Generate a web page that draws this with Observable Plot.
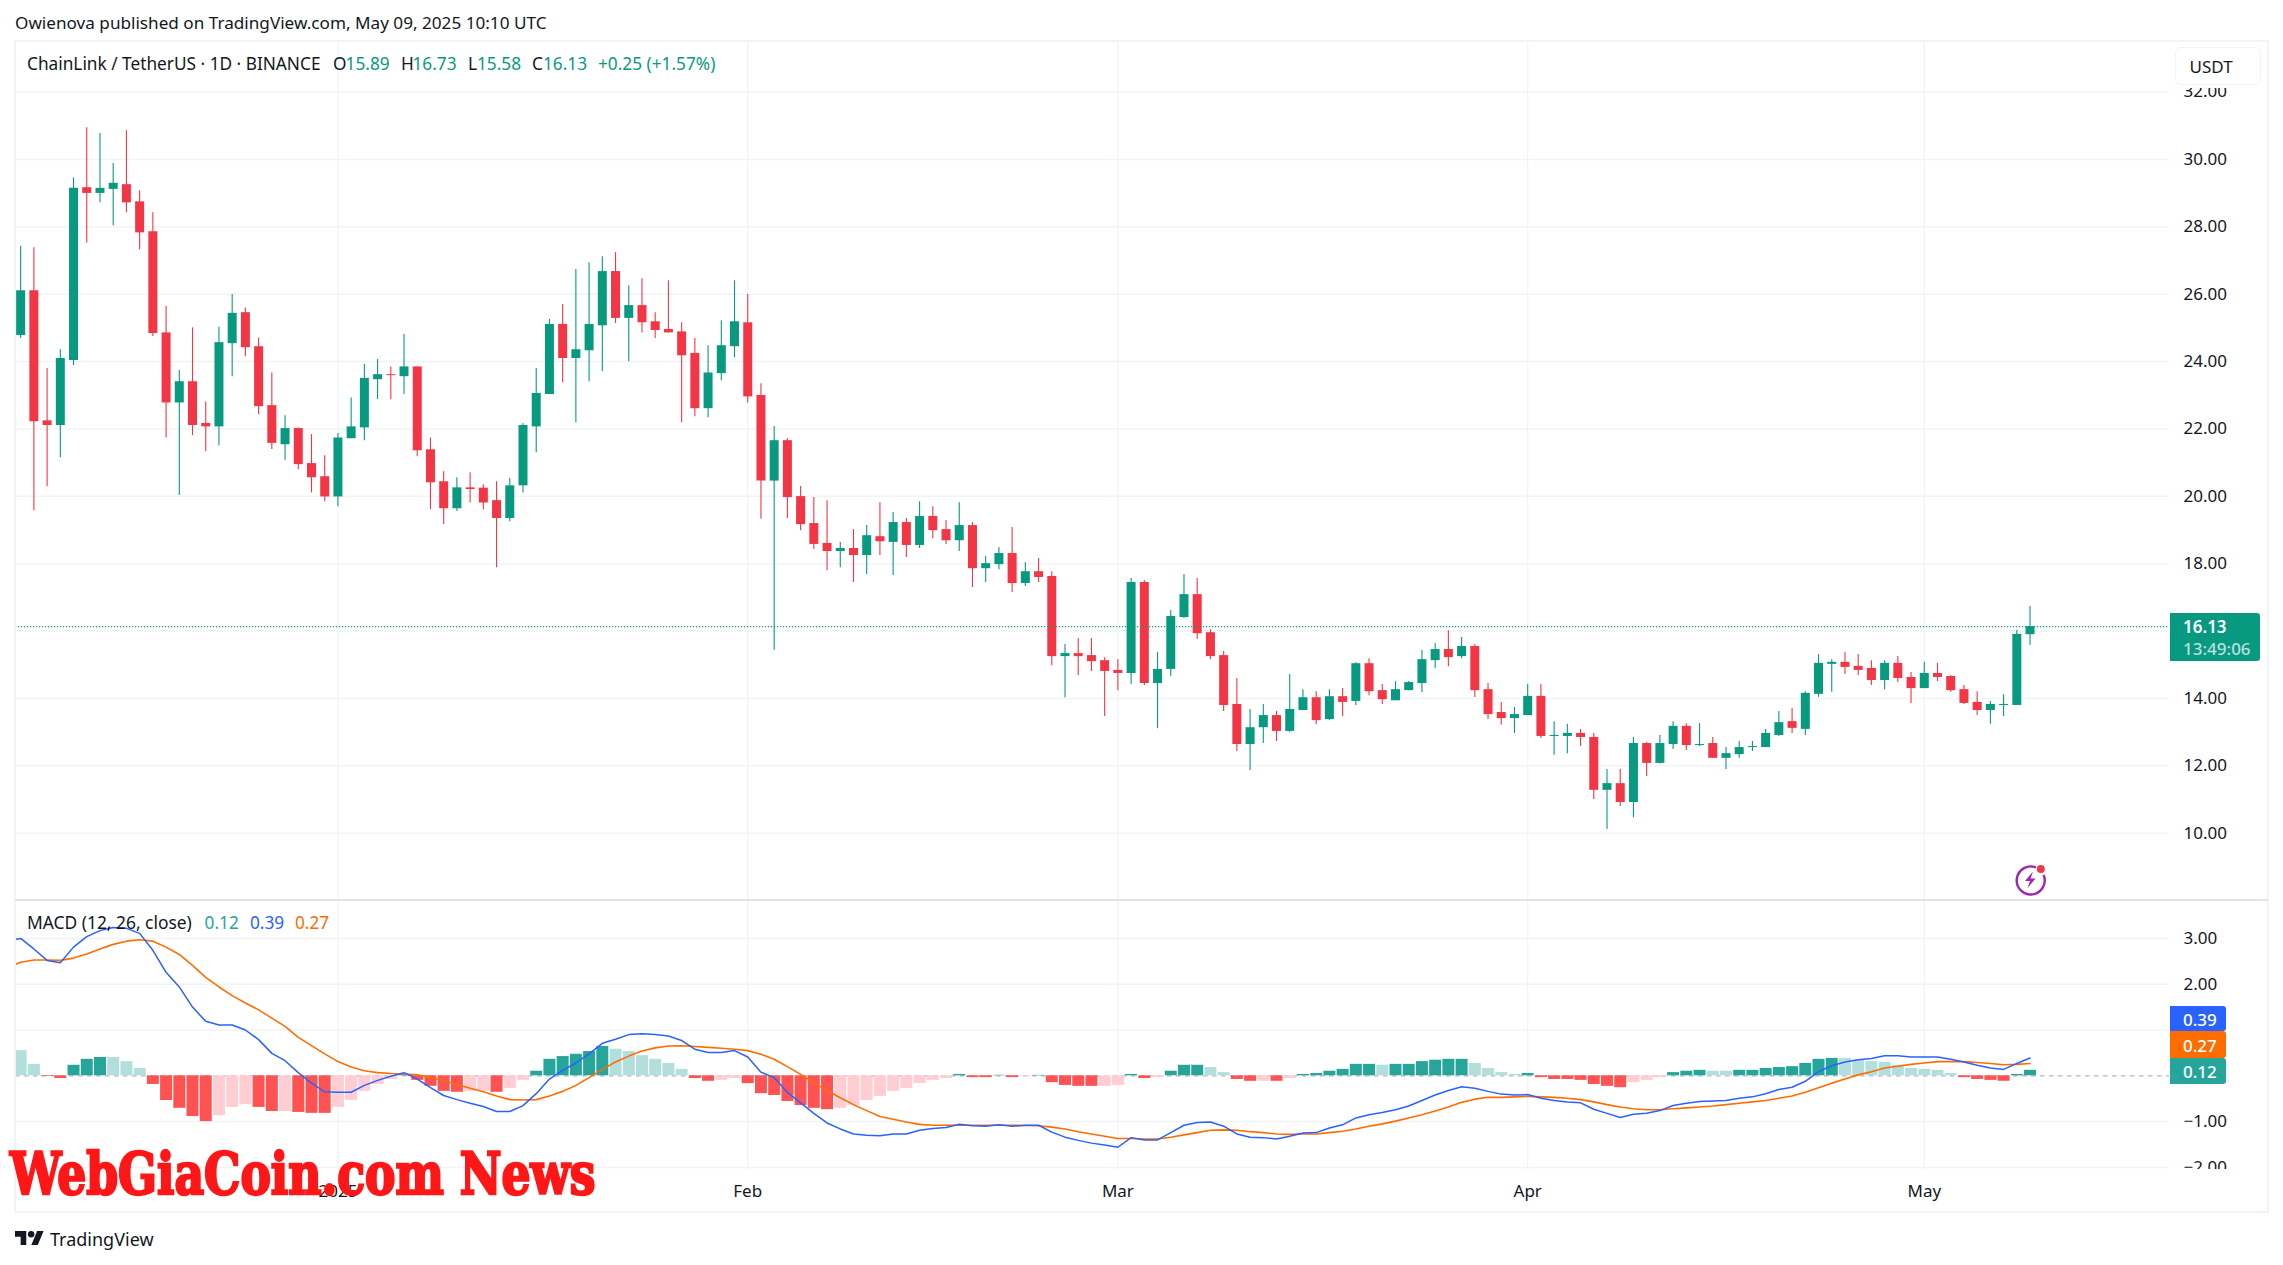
<!DOCTYPE html>
<html>
<head>
<meta charset="utf-8">
<script src="https://cdn.jsdelivr.net/npm/d3@7"></script>
<script src="https://cdn.jsdelivr.net/npm/@observablehq/plot@0.6"></script>
<style>
html,body{margin:0;padding:0;background:#fff;}
#page{position:relative;width:2283px;height:1265px;overflow:hidden;font-family:"Noto Sans",sans-serif;color:#131722;}
#page>svg,#page>figure{position:absolute;left:0;margin:0;}
.t{position:absolute;white-space:nowrap;transform:translateY(-50%);line-height:1;}
.box{position:absolute;box-sizing:border-box;}
</style>
</head>
<body>
<div id="page"></div>
<script>
// ---------- candle data, one value per day from 8 Dec 2024 ----------
const opens = [24.77,26.10,22.24,22.10,24.03,29.16,28.99,29.11,29.25,28.74,27.85,24.85,22.77,23.40,22.16,22.06,24.53,25.45,24.44,22.69,21.53,22.01,20.97,20.58,19.98,21.71,22.03,23.46,23.61,23.55,23.84,21.38,20.43,19.63,20.25,20.24,19.87,19.34,20.31,22.06,23.02,25.10,24.09,24.32,25.06,26.67,25.28,25.66,25.18,24.95,24.88,24.24,22.60,23.64,24.44,25.15,22.99,20.45,21.65,19.99,19.19,18.60,18.36,18.45,18.24,18.80,18.63,19.22,18.54,19.40,19.01,18.68,19.13,17.85,17.97,18.30,17.41,17.76,17.62,15.24,15.33,15.27,15.12,14.83,14.74,17.44,14.44,14.86,16.40,17.08,15.95,15.27,13.82,12.63,13.13,13.49,13.02,13.64,14.02,13.37,14.05,13.91,15.03,14.23,13.93,14.23,14.44,15.12,15.45,15.24,15.54,14.26,13.58,13.40,13.49,14.06,12.87,12.87,12.96,12.84,11.27,11.47,10.91,12.66,12.07,12.63,13.17,12.60,12.66,12.22,12.33,12.54,12.54,12.90,13.31,13.08,14.12,15.01,15.07,14.95,14.89,14.53,15.04,14.62,14.29,14.74,14.65,14.26,13.88,13.64,13.79,13.79,15.89];
const highs = [27.42,27.38,23.79,24.35,29.45,30.94,30.77,29.88,30.85,29.07,28.42,25.63,23.73,25.00,22.80,25.02,25.99,25.59,24.70,23.66,22.39,22.03,21.83,21.20,21.86,22.92,23.91,24.06,23.84,24.80,23.84,21.73,20.73,20.55,20.70,20.34,20.43,20.53,22.16,23.79,25.25,25.69,26.73,26.93,27.11,27.23,26.25,26.46,25.45,26.40,25.15,24.68,24.47,25.21,26.40,25.99,23.34,22.07,21.71,20.29,19.96,19.87,18.63,19.01,19.13,19.81,19.52,19.34,19.84,19.69,19.28,19.81,19.22,18.21,18.48,19.07,18.03,18.15,17.76,15.60,15.78,15.78,15.21,15.15,17.56,17.50,15.36,16.61,17.68,17.56,16.04,15.39,14.59,13.67,13.82,13.61,14.71,14.26,14.20,14.26,14.29,15.06,15.18,14.41,14.50,14.50,15.42,15.63,16.01,15.81,15.60,14.44,13.88,13.73,14.41,14.41,13.31,13.23,13.08,12.96,11.89,11.89,12.84,12.69,12.90,13.31,13.25,13.25,12.84,12.54,12.72,12.72,13.08,13.61,13.70,14.20,15.30,15.15,15.36,15.30,15.12,15.12,15.24,14.77,15.07,15.04,14.68,14.38,14.20,13.91,14.11,16.02,16.73];
const lows = [24.68,19.57,20.28,21.14,23.88,27.52,28.71,28.03,28.42,27.32,24.74,21.73,20.02,21.80,21.32,21.50,23.55,24.14,22.42,21.39,21.06,20.79,20.10,19.84,19.69,21.71,21.65,22.87,22.87,23.02,21.17,19.60,19.16,19.55,19.80,19.60,17.88,19.24,20.10,21.29,23.02,23.37,22.18,23.40,23.70,25.13,23.99,24.85,24.68,24.85,22.18,22.36,22.33,23.43,24.11,22.77,19.32,15.43,19.34,18.98,18.42,17.79,17.88,17.44,17.68,18.24,17.65,18.18,18.45,18.74,18.57,18.36,17.29,17.44,17.82,17.14,17.32,17.44,14.97,14.02,14.68,14.80,13.46,14.23,14.41,14.38,13.10,14.65,16.37,15.75,15.15,13.61,12.42,11.86,12.66,12.72,12.99,13.64,13.22,13.34,13.46,13.79,14.08,13.82,13.93,14.23,14.17,14.89,14.94,15.18,14.03,13.37,13.20,12.96,13.49,12.81,12.31,12.36,12.57,11.00,10.11,10.79,10.46,11.68,12.05,12.48,12.45,12.57,12.22,11.89,12.22,12.42,12.54,12.87,12.96,12.90,14.03,14.18,14.71,14.68,14.38,14.26,14.47,13.85,14.29,14.50,14.18,13.82,13.49,13.23,13.46,13.79,15.58];
const closes = [26.10,22.21,22.10,24.09,29.14,28.99,29.14,29.29,28.71,27.82,24.83,22.77,23.40,22.10,22.06,24.56,25.43,24.41,22.66,21.57,22.01,20.94,20.55,19.98,21.73,22.06,23.50,23.61,23.58,23.84,21.35,20.40,19.63,20.25,20.20,19.80,19.34,20.31,22.10,23.05,25.10,24.09,24.35,25.10,26.67,25.28,25.66,25.15,24.92,24.85,24.17,22.60,23.66,24.47,25.18,22.95,20.45,21.65,19.96,19.16,18.57,18.36,18.45,18.24,18.83,18.65,19.22,18.54,19.40,18.98,18.68,19.13,17.85,18.00,18.30,17.41,17.76,17.59,15.24,15.33,15.24,15.09,14.80,14.74,17.44,14.44,14.86,16.43,17.08,15.92,15.24,13.79,12.63,13.13,13.49,13.02,13.67,14.02,13.34,14.05,13.88,15.03,14.20,13.96,14.26,14.47,15.15,15.45,15.21,15.54,14.23,13.52,13.40,13.52,14.06,12.87,12.90,12.96,12.84,11.27,11.47,10.91,12.66,12.07,12.66,13.17,12.60,12.63,12.22,12.36,12.54,12.57,12.96,13.28,13.11,14.15,15.04,15.07,14.92,14.83,14.53,15.04,14.59,14.29,14.74,14.62,14.23,13.85,13.64,13.82,13.82,15.90,16.13];

// ---------- MACD data, same days ----------
const hist = [0.55,0.25,-0.015,-0.06,0.23,0.36,0.40,0.40,0.31,0.16,-0.19,-0.54,-0.71,-0.89,-1.00,-0.87,-0.69,-0.63,-0.69,-0.78,-0.78,-0.80,-0.82,-0.82,-0.69,-0.54,-0.34,-0.19,-0.08,0.03,-0.10,-0.23,-0.34,-0.36,-0.34,-0.34,-0.36,-0.28,-0.10,0.10,0.36,0.42,0.47,0.53,0.64,0.58,0.53,0.44,0.36,0.27,0.14,-0.06,-0.12,-0.10,-0.06,-0.17,-0.39,-0.43,-0.56,-0.65,-0.71,-0.74,-0.71,-0.65,-0.54,-0.45,-0.34,-0.28,-0.17,-0.10,-0.06,0.03,-0.04,-0.04,0.01,-0.04,-0.015,0.01,-0.15,-0.21,-0.23,-0.23,-0.23,-0.21,0.03,-0.06,-0.04,0.10,0.23,0.23,0.18,0.07,-0.08,-0.12,-0.12,-0.12,-0.06,0.03,0.05,0.10,0.14,0.25,0.25,0.23,0.25,0.25,0.31,0.34,0.36,0.36,0.27,0.16,0.07,0.03,0.05,-0.04,-0.08,-0.08,-0.10,-0.19,-0.23,-0.26,-0.15,-0.10,-0.04,0.07,0.10,0.12,0.10,0.10,0.12,0.12,0.16,0.18,0.20,0.27,0.36,0.38,0.38,0.34,0.31,0.29,0.23,0.16,0.14,0.12,0.05,-0.04,-0.08,-0.10,-0.12,0.03,0.12];
const histFaded = [1,1,0,0,0,0,0,1,1,1,0,0,0,0,0,1,1,1,0,0,1,0,0,0,1,1,1,1,1,0,0,0,0,0,1,1,0,1,1,0,0,0,0,0,0,1,1,1,1,1,1,0,0,1,1,0,0,0,0,0,0,0,1,1,1,1,1,1,1,1,1,0,0,0,0,0,1,0,0,0,0,0,1,1,0,0,1,0,0,0,1,1,0,0,1,0,1,0,0,0,0,0,0,1,0,0,0,0,0,0,1,1,1,1,0,0,0,0,0,0,0,0,1,1,1,0,0,0,1,1,0,0,0,0,0,0,0,0,1,1,1,1,1,1,1,1,1,0,0,0,0,0,0];
const macdLine = [3.00,2.77,2.52,2.47,2.81,3.04,3.17,3.24,3.22,3.11,2.74,2.26,1.94,1.50,1.19,1.11,1.11,1.00,0.79,0.49,0.33,0.07,-0.16,-0.35,-0.36,-0.36,-0.21,-0.10,-0.01,0.07,-0.07,-0.26,-0.43,-0.52,-0.60,-0.67,-0.78,-0.78,-0.65,-0.39,-0.07,0.12,0.28,0.48,0.71,0.80,0.90,0.92,0.90,0.87,0.77,0.58,0.51,0.51,0.55,0.41,0.08,-0.04,-0.36,-0.59,-0.82,-1.03,-1.16,-1.27,-1.30,-1.31,-1.27,-1.27,-1.19,-1.15,-1.13,-1.06,-1.09,-1.10,-1.07,-1.10,-1.08,-1.08,-1.23,-1.34,-1.41,-1.47,-1.51,-1.56,-1.35,-1.40,-1.40,-1.24,-1.08,-1.02,-1.01,-1.10,-1.27,-1.34,-1.35,-1.38,-1.32,-1.25,-1.24,-1.14,-1.07,-0.92,-0.85,-0.80,-0.74,-0.66,-0.54,-0.42,-0.32,-0.24,-0.27,-0.34,-0.40,-0.42,-0.41,-0.49,-0.54,-0.57,-0.59,-0.73,-0.82,-0.91,-0.84,-0.82,-0.76,-0.65,-0.60,-0.56,-0.55,-0.54,-0.49,-0.46,-0.39,-0.30,-0.25,-0.12,0.09,0.22,0.30,0.35,0.38,0.44,0.44,0.41,0.41,0.41,0.36,0.30,0.23,0.17,0.14,0.27,0.39];
const signalLine = [2.48,2.53,2.53,2.52,2.57,2.66,2.77,2.87,2.94,2.97,2.94,2.81,2.65,2.41,2.15,1.94,1.75,1.59,1.44,1.26,1.08,0.84,0.66,0.48,0.31,0.19,0.11,0.07,0.05,0.04,0.02,-0.03,-0.11,-0.19,-0.27,-0.35,-0.44,-0.52,-0.53,-0.52,-0.44,-0.34,-0.21,-0.04,0.14,0.30,0.43,0.54,0.61,0.65,0.655,0.64,0.62,0.60,0.58,0.55,0.47,0.36,0.20,0.03,-0.15,-0.32,-0.48,-0.63,-0.76,-0.89,-0.95,-1.01,-1.06,-1.08,-1.08,-1.08,-1.08,-1.08,-1.08,-1.08,-1.085,-1.09,-1.12,-1.16,-1.22,-1.27,-1.32,-1.37,-1.37,-1.38,-1.38,-1.34,-1.29,-1.24,-1.19,-1.18,-1.19,-1.22,-1.24,-1.27,-1.28,-1.27,-1.27,-1.24,-1.21,-1.16,-1.10,-1.05,-0.99,-0.92,-0.85,-0.77,-0.68,-0.58,-0.51,-0.47,-0.47,-0.46,-0.45,-0.46,-0.47,-0.49,-0.52,-0.57,-0.63,-0.68,-0.72,-0.74,-0.74,-0.72,-0.70,-0.68,-0.66,-0.63,-0.60,-0.57,-0.54,-0.49,-0.44,-0.36,-0.26,-0.16,-0.07,0.02,0.09,0.17,0.21,0.25,0.28,0.31,0.31,0.31,0.29,0.27,0.24,0.25,0.27];
// the day before the first candle: only its line segment shows at the left edge
const macdPrevDay = 2.95;
const signalPrevDay = 2.37;

// ---------- labels ----------
const priceGrid = [10,12,14,16,18,20,22,24,26,28,30,32];
const priceLabels = [10,12,14,18,20,22,24,26,28,30,32];
const macdGrid = [3,2,1,-1,-2];
const macdLabels = [3,2,-1,-2];
const monthNames = ["2025","Feb","Mar","Apr","May"];
const monthDates = [[2025,0],[2025,1],[2025,2],[2025,3],[2025,4]].map(([y,m])=>new Date(Date.UTC(y,m,1)));
const lastPrice = 16.13;
const zeroLevel = [0];

const GREEN="#089981", RED="#F23645", GRID="#f2f3f6", INK="#131722", FS=17;
const day0 = new Date(Date.UTC(2024,11,8));
const dates = opens.map((_,i)=>d3.utcDay.offset(day0,i));
const candles = dates.map((date,i)=>({date,o:opens[i],h:highs[i],l:lows[i],c:closes[i],col:closes[i]>=opens[i]?GREEN:RED}));
const macdRows = dates.map((date,i)=>({date,h:hist[i],m:macdLine[i],s:signalLine[i],
  col:hist[i]>=0?(histFaded[i]?"#B2DFDB":"#26A69A"):(histFaded[i]?"#FFCDD2":"#FF5252")}));
const lineRows = [{date:d3.utcDay.offset(day0,-1),m:macdPrevDay,s:signalPrevDay},...macdRows];

const xScale = {type:"utc",domain:[new Date(Date.UTC(2024,11,7,14,38)),new Date(Date.UTC(2025,4,19,13,12))]};
const base = {width:2283,marginLeft:15,marginRight:114,marginTop:0,marginBottom:0,x:{...xScale,axis:null},style:{background:"transparent",overflow:"hidden"}};
const fmt = d=>d.toFixed(2).replace("-","\u2212");

const pricePlot = Plot.plot({...base,height:858,
  y:{domain:[8.03,33.5],axis:null},
  marks:[
    Plot.ruleX(monthDates,{stroke:GRID,strokeWidth:1.2}),
    Plot.ruleY(priceGrid,{stroke:GRID,strokeWidth:1.5}),
    Plot.ruleX(candles,{x:"date",y1:"l",y2:"h",stroke:"col",strokeWidth:1.1}),
    Plot.ruleX(candles,{x:"date",y1:"o",y2:"c",stroke:"col",strokeWidth:9}),
    Plot.ruleY([lastPrice],{stroke:GREEN,strokeWidth:1.3,strokeDasharray:"1.2,1.8"}),
    Plot.axisY(priceLabels,{anchor:"right",tickSize:0,tickPadding:14,tickFormat:fmt,fontSize:FS,label:null,fill:INK})
  ]});
pricePlot.style.top="41px";

const macdPlot = Plot.plot({...base,height:269,
  y:{domain:[-2.046,3.828],axis:null},
  marks:[
    Plot.ruleX(monthDates,{stroke:GRID,strokeWidth:1.2}),
    Plot.ruleY(macdGrid,{stroke:GRID,strokeWidth:1.5}),
    Plot.ruleY(zeroLevel,{stroke:"#b2b5be",strokeWidth:1.2,strokeDasharray:"4.5,4.5"}),
    Plot.ruleX(macdRows,{x:"date",y1:0,y2:"h",stroke:"col",strokeWidth:12}),
    Plot.lineY(lineRows,{x:"date",y:"s",stroke:"#FF6D00",strokeWidth:1.6,clip:true}),
    Plot.lineY(lineRows,{x:"date",y:"m",stroke:"#2962FF",strokeWidth:1.5,clip:true}),
    Plot.axisY(macdLabels,{anchor:"right",tickSize:0,tickPadding:14,tickFormat:fmt,fontSize:FS,label:null,fill:INK})
  ]});
macdPlot.style.top="900px";

const timePlot = Plot.plot({...base,height:45,
  y:{axis:null},
  marks:[
    Plot.text(monthDates,{x:d=>d,text:(d,i)=>monthNames[i],frameAnchor:"middle",fontSize:FS,fill:INK})
  ]});
timePlot.style.top="1169px";

const page = document.getElementById("page");
page.append(pricePlot,macdPlot,timePlot);

// ---------- frame and dividers ----------
const box=(l,t,w,h,css)=>{const e=document.createElement("div");e.className="box";e.style.cssText=`left:${l}px;top:${t}px;width:${w}px;height:${h}px;${css||""}`;page.append(e);return e;};
box(14,40,2255,1173,"border:2px solid #f0f3fa;");
box(15,898.5,2253,2,"background:#e0e3eb;");

// ---------- text ----------
const txt=(s,l,c,color,fs,extra)=>{const e=document.createElement("div");e.className="t";e.textContent=s;e.style.cssText=`left:${l}px;top:${c}px;color:${color||INK};font-size:${fs||FS}px;${extra||""}`;page.append(e);return e;};
txt("Owienova published on TradingView.com, May 09, 2025 10:10 UTC",15,23,INK,17.15);
txt("ChainLink / TetherUS \u00b7 1D \u00b7 BINANCE",27,64,INK,17.25);
[["O",333,INK],["15.89",345.6,GREEN],["H",401,INK],["16.73",412.5,GREEN],["L",468,INK],["15.58",477,GREEN],["C",532,INK],["16.13",543,GREEN],["+0.25 (+1.57%)",598,GREEN]]
  .forEach(([s,l,c])=>txt(s,l,64,c,17.25));
txt("MACD (12, 26, close)",27,923,INK,17.4);
txt("0.12",204.6,923,"#26A69A",17.25);
txt("0.39",250,923,"#2962FF",17.25);
txt("0.27",295,923,"#FF6D00",17.25);

// unit box: it hides the upper part of the top axis label
box(2175,46.7,86,41.5,"background:#fff;");
box(2175,46.7,86,38.3,"background:#fff;border:1.5px solid #f0f3fa;border-radius:6px;");
txt("USDT",2189.5,66,INK,FS);

// last price tag
const py=41+pricePlot.scale("y").apply(lastPrice);
box(2170,py-13.4,89.7,48,`background:${GREEN};border-radius:0 3px 3px 0;`);
txt("16.13",2183,py+.3,"#fff",FS,"font-weight:600;");
txt("13:49:06",2183,py+22,"rgba(255,255,255,.72)",FS,"font-weight:500;");

// MACD tags
[["0.39","#2962FF",1006,25.3],["0.27","#FF6D00",1031.3,26.4],["0.12","#26A69A",1057.7,26]].forEach(([s,c,t,h])=>{
  box(2170,t,56,h,`background:${c};border-radius:0 3px 3px 0;`);
  txt(s,2183,t+h/2,"#fff",FS,"font-weight:500;");
});

// brand logo + name, lightning badge
const logo=document.createElement("div");
logo.innerHTML=`<svg style="position:absolute;left:15px;top:1230.7px" width="29" height="14.5" viewBox="0 4 36 18"><path fill="#131722" d="M14 22H7V11H0V4h14v18zM28 22h-8l7.5-18h8L28 22z"/><circle fill="#131722" cx="20" cy="8" r="4"/></svg>
<svg style="position:absolute;left:2014px;top:863px" width="34" height="33" viewBox="0 0 34 33"><path d="M22 4.5A14 14 0 1 0 29.6 12" fill="none" stroke="#9C27B0" stroke-width="2.4"/><path d="M19 8.5 11 18h5l-2.5 7 8-9.5h-5z" fill="#9C27B0"/><circle cx="26.8" cy="6" r="4" fill="#F23645"/></svg>`;
page.append(logo);
txt("TradingView",50,1239,INK,18);

// watermark
txt("WebGiaCoin.com News",10,1174,"#FF1616",58,"font-family:'DejaVu Serif Condensed','DejaVu Serif',serif;font-weight:900;transform-origin:0 50%;transform:translateY(-50%) scaleX(0.875);-webkit-text-stroke:2.4px #FF1616;");
</script>
</body>
</html>
